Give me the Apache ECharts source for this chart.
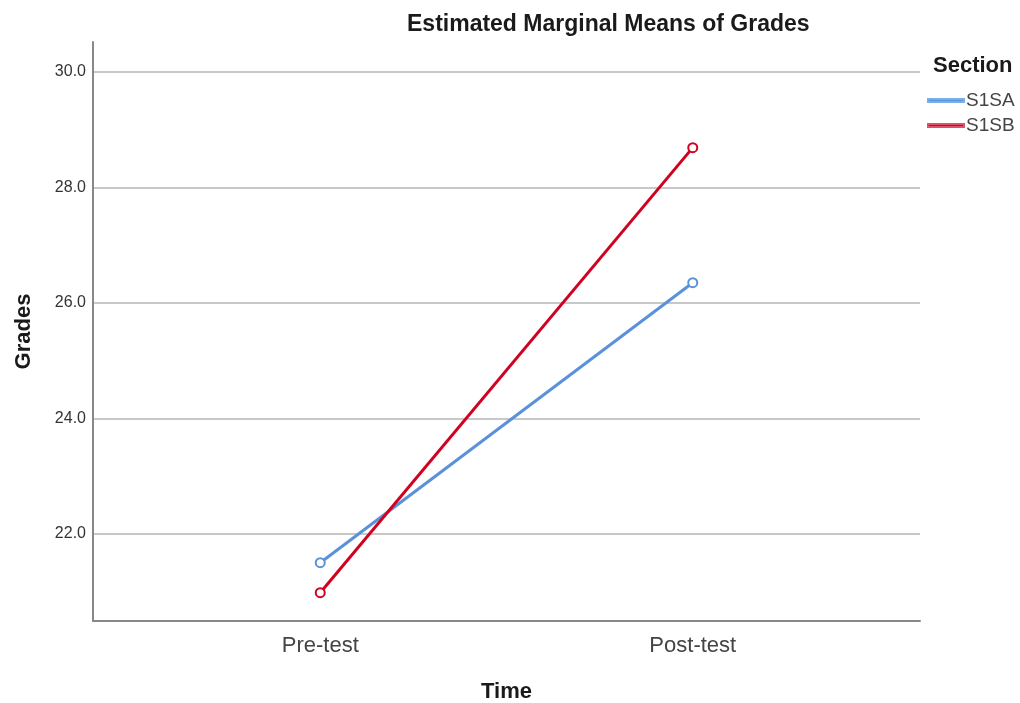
<!DOCTYPE html>
<html>
<head>
<meta charset="utf-8">
<script src="https://cdn.jsdelivr.net/npm/echarts@6/dist/echarts.min.js"></script>
<style>html,body{margin:0;padding:0;background:#fff;}#chart{width:1020px;height:703px;}</style>
</head>
<body>
<div id="chart"></div>
<script>
const categories = ['Pre-test', 'Post-test'];
const seriesNames = ['S1SA', 'S1SB'];
const s1saValues = [21.50, 26.35];
const s1sbValues = [20.98, 28.69];
const yTicks = [22, 24, 26, 28, 30];

const chart = echarts.init(document.getElementById('chart'));
const toPoints = vals => vals.map((v, i) => [i, v]);
const font = 'Arial, "Liberation Sans", sans-serif';

chart.setOption({
  backgroundColor: '#ffffff',
  animation: false,
  title: [
    { text: 'Estimated Marginal Means of Grades', left: 402, top: 8,
      textStyle: { fontFamily: font, fontSize: 23, fontWeight: 'bold', color: '#1a1a1a' } },
    { text: 'Section', left: 928, top: 50,
      textStyle: { fontFamily: font, fontSize: 22, fontWeight: 'bold', color: '#1a1a1a' } }
  ],
  legend: {
    orient: 'vertical', left: 927, top: 91, padding: 0,
    icon: 'rect', itemWidth: 36, itemHeight: 3, itemGap: 6,
    data: seriesNames,
    textStyle: { fontFamily: font, fontSize: 19, color: '#444', padding: [0, 0, 0, -3] }
  },
  grid: { left: 93, right: 100, top: 42, bottom: 82, outerBoundsMode: 'none', containLabel: false },
  xAxis: {
    type: 'value', min: -0.61, max: 1.61,
    name: 'Time', nameLocation: 'middle', nameGap: 60,
    nameTextStyle: { fontFamily: font, fontSize: 22, fontWeight: 'bold', color: '#1a1a1a' },
    axisLine: { show: true, onZero: false, lineStyle: { color: '#888', width: 2 } },
    axisTick: { show: false, customValues: [0, 1] },
    splitLine: { show: false },
    axisLabel: {
      customValues: [0, 1], margin: 14,
      formatter: v => categories[Math.round(v)] || '',
      fontFamily: font, fontSize: 22, color: '#444'
    }
  },
  yAxis: {
    type: 'value', min: 20.49, max: 30.52,
    name: 'Grades', nameLocation: 'middle', nameGap: 58, nameRotate: 90,
    nameTextStyle: { fontFamily: font, fontSize: 22, fontWeight: 'bold', color: '#1a1a1a' },
    axisLine: { show: true, onZero: false, lineStyle: { color: '#888', width: 2 } },
    axisTick: { show: false, customValues: yTicks },
    splitLine: { show: true, lineStyle: { color: '#c8c8c8', width: 2 } },
    axisLabel: {
      customValues: yTicks, margin: 7,
      formatter: v => v.toFixed(1),
      fontFamily: font, fontSize: 16, color: '#333'
    }
  },
  series: [
    { name: seriesNames[0], type: 'line', data: toPoints(s1saValues),
      symbol: 'emptyCircle', symbolSize: 9,
      lineStyle: { color: '#5a91da', width: 3 },
      itemStyle: { color: '#5a91da', borderColor: '#7aaee8', borderWidth: 1.5 } },
    { name: seriesNames[1], type: 'line', data: toPoints(s1sbValues),
      symbol: 'emptyCircle', symbolSize: 9,
      lineStyle: { color: '#d0021f', width: 3 },
      itemStyle: { color: '#d0021f', borderColor: '#e0506a', borderWidth: 1.5 } }
  ]
});
</script>
</body>
</html>
